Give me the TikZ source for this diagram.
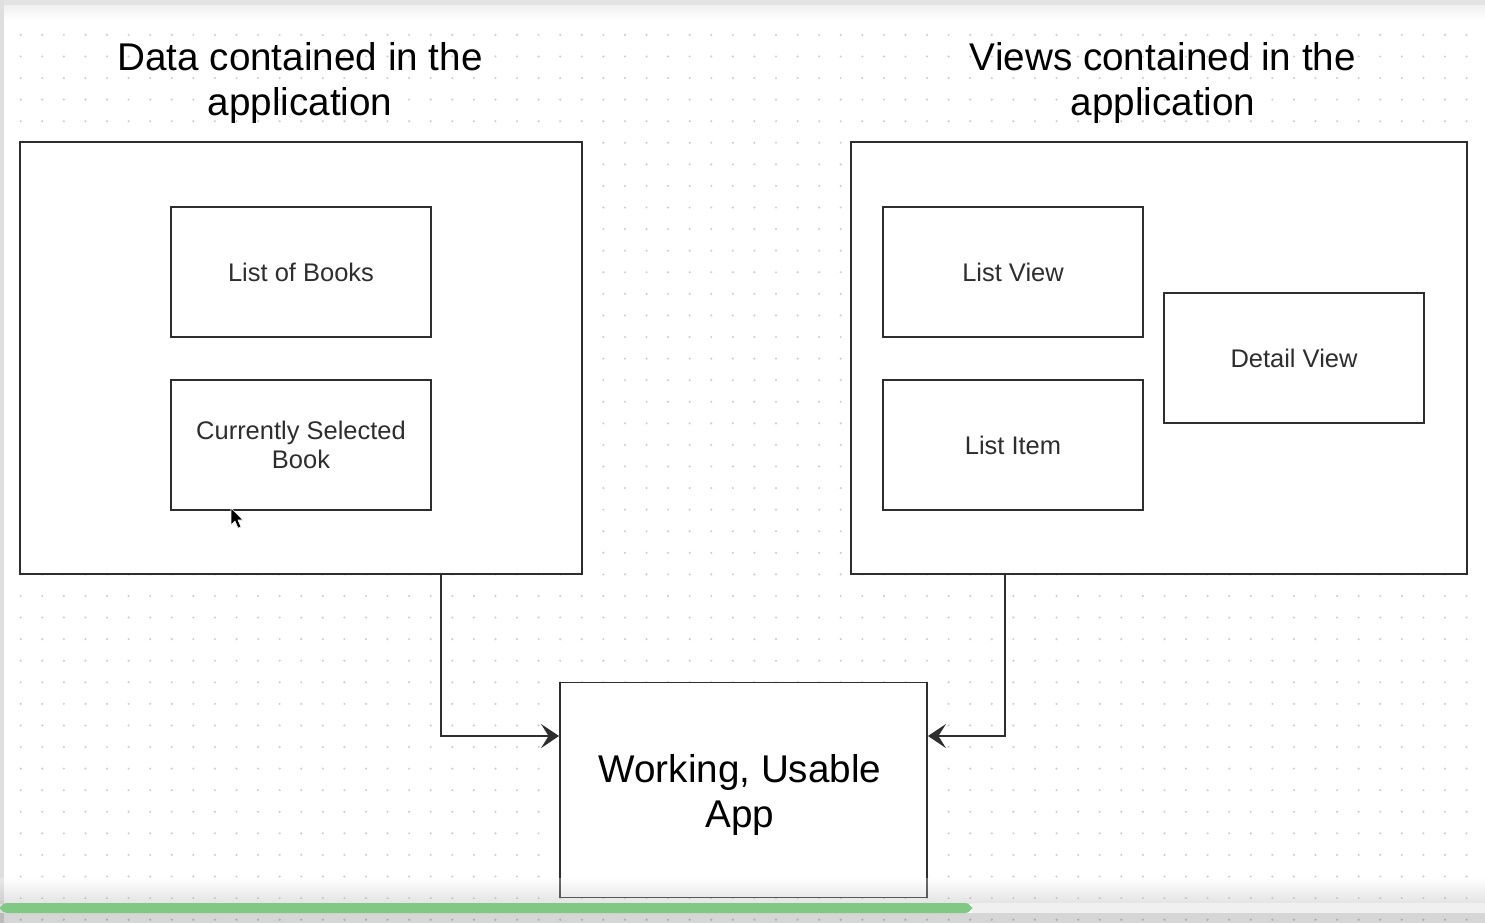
\documentclass[tikz,border=0pt]{standalone}
\usepackage{fontspec}
\setmainfont{Liberation Sans}
\usetikzlibrary{positioning,arrows.meta}
\definecolor{boxline}{HTML}{2E2E2E}
\definecolor{gridgray}{HTML}{CFCFCF}
\definecolor{barGreen}{HTML}{80C883}

\begin{document}
\begin{tikzpicture}[x=0.02cm, y=-0.02cm, node distance=0.82cm,
    title/.style={align=center, font=\fontsize{22}{25.5}\selectfont},
    outer/.style={draw=boxline, fill=white, line width=1.1pt, inner sep=0pt},
    item/.style={draw=boxline, fill=white, line width=1.1pt, inner sep=0pt,
        minimum width=5.2cm, minimum height=2.6cm, align=center, text=boxline,
        font=\fontsize{14.5}{17}\selectfont},
    link/.style={draw=boxline, line width=1.1pt,
        -{Stealth[length=3.6mm, width=4.8mm, inset=1.5mm]}}]
    % background and grid
    \useasboundingbox (0,0) rectangle (1485,923);
    \fill[white] (0,0) rectangle (1485,923);
    \foreach \i in {0,...,68}
        \foreach \j in {0,...,42}
            \fill[gridgray] (20.7+21.58*\i, 13.3+21.58*\j) circle (1.2);
    \fill[gray!22] (0,0) rectangle (1485,5);
    \shade[top color=gray!12, bottom color=white] (0,5) rectangle (1485,20);
    \fill[gray!25] (0,0) rectangle (4,923);

    \node[title] (datatitle) at (300,83) {Data contained in the\\application};
    \node[title] (viewtitle) at (1163,83) {Views contained in the\\application};

    \node[outer, minimum width=11.24cm, minimum height=8.64cm] (data) at (301,358) {};
    \node[item] (books) at (301,272) {List of Books};
    \node[item, below=of books] (selected) {Currently Selected\\Book};

    \node[outer, minimum width=12.32cm, minimum height=8.64cm] (views) at (1159,358) {};
    \node[item] (listview) at (1013,272) {List View};
    \node[item, below=of listview] (listitem) {List Item};
    \node[item] (detail) at (1294,358) {Detail View};

    \node[item, minimum width=7.34cm, minimum height=4.3cm] (app) at (743.5,790) {};
    \node[title] (applabel) at (740,795) {Working, Usable\\App};

    \draw[link] ([xshift=2.8cm]data.south) |- ([yshift=1.08cm]app.west);
    \draw[link] ([xshift=-3.08cm]views.south) |- ([yshift=1.08cm]app.east);

    % mouse pointer
    \filldraw[fill=black, draw=white, line width=0.3pt] (231,508) -- (231,525) -- (235,521)
        -- (238,528) -- (241,527) -- (238,520) -- (243,520) -- cycle;

    % player bar
    \shade[top color=white, bottom color=gray!70, fill opacity=0.3] (0,878) rectangle (1485,903);
    \fill[gray!12] (972,903) rectangle (1485,913);
    \fill[black, fill opacity=0.16] (0,913) rectangle (1485,923);
    \fill[barGreen, rounded corners=4] (0,903) rectangle (972,913);
\end{tikzpicture}
\end{document}
